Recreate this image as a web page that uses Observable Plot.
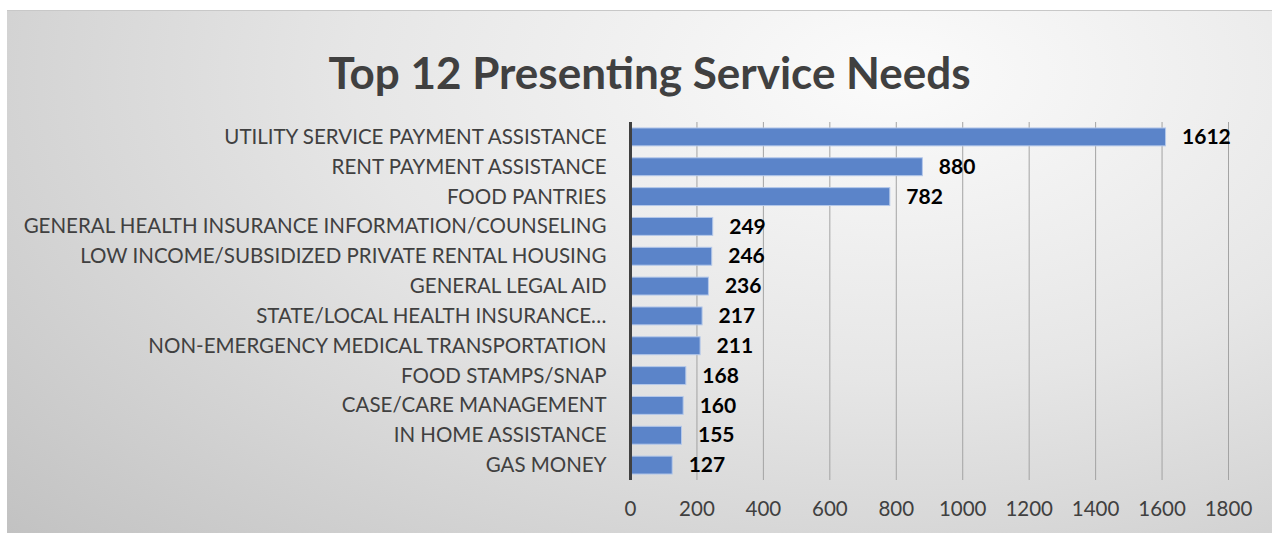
<!DOCTYPE html>
<html>
<head>
<meta charset="utf-8">
<script src="https://cdn.jsdelivr.net/npm/d3@7"></script>
<script src="https://cdn.jsdelivr.net/npm/@observablehq/plot@0.6"></script>
<style>
  html, body { margin: 0; padding: 0; background: #ffffff; }
  #chart {
    position: absolute; left: 7px; top: 10px; width: 1265px; height: 523px;
    background: radial-gradient(ellipse 95% 130% at 70% 12%, #fbfbfb 0%, #e6e6e6 45%, #c2c2c2 100%);
    border-top: 1px solid #c8c8c8;
    font-family: Lato, "Open Sans", sans-serif;
  }
  #title {
    height: 100px; line-height: 122px; text-align: center;
    font-size: 44px; font-weight: bold; color: #404040;
    padding-left: 20px; box-sizing: border-box;
  }
  #plot svg { display: block; background: transparent; }
</style>
</head>
<body>
<div id="chart">
  <div id="title">Top 12 Presenting Service Needs</div>
  <div id="plot"></div>
</div>
<script>
const categories = [
  "UTILITY SERVICE PAYMENT ASSISTANCE",
  "RENT PAYMENT ASSISTANCE",
  "FOOD PANTRIES",
  "GENERAL HEALTH INSURANCE INFORMATION/COUNSELING",
  "LOW INCOME/SUBSIDIZED PRIVATE RENTAL HOUSING",
  "GENERAL LEGAL AID",
  "STATE/LOCAL HEALTH INSURANCE…",
  "NON-EMERGENCY MEDICAL TRANSPORTATION",
  "FOOD STAMPS/SNAP",
  "CASE/CARE MANAGEMENT",
  "IN HOME ASSISTANCE",
  "GAS MONEY"
];
const values = [1612, 880, 782, 249, 246, 236, 217, 211, 168, 160, 155, 127];
const xTicks = [0, 200, 400, 600, 800, 1000, 1200, 1400, 1600, 1800];

const data = categories.map((c, i) => ({name: c, value: values[i]}));

const chart = Plot.plot({
  width: 1265,
  height: 423,
  marginLeft: 623,
  marginRight: 44,
  marginTop: 11,
  marginBottom: 54,
  style: {fontFamily: "Lato, 'Open Sans', sans-serif", background: "transparent"},
  x: {domain: [0, 1800], ticks: xTicks, label: null},
  y: {domain: categories, label: null, paddingInner: 0.4, paddingOuter: 0.2, round: false},
  marks: [
    Plot.gridX(xTicks.filter(t => t > 0), {stroke: "#a3a3a3", strokeOpacity: 1, strokeWidth: 1}),
    Plot.barX(data, {x: "value", y: "name", fill: "#5b84c9", stroke: "#b4c8ea", strokeWidth: 1}),
    Plot.ruleX([0], {stroke: "#404040", strokeWidth: 3}),
    Plot.axisY({tickSize: 0, tickPadding: 24, fontSize: 20.5, fill: "#404040", label: null}),
    Plot.axisX({ticks: xTicks, tickFormat: d => String(d), tickSize: 0, tickPadding: 21, fontSize: 20.5, fill: "#404040", label: null}),
    Plot.text(data, {x: "value", y: "name", text: d => String(d.value), textAnchor: "start", dx: 16, fontSize: 21, fontWeight: "bold", fill: "#000"})
  ]
});
document.getElementById("plot").appendChild(chart);
</script>
</body>
</html>
